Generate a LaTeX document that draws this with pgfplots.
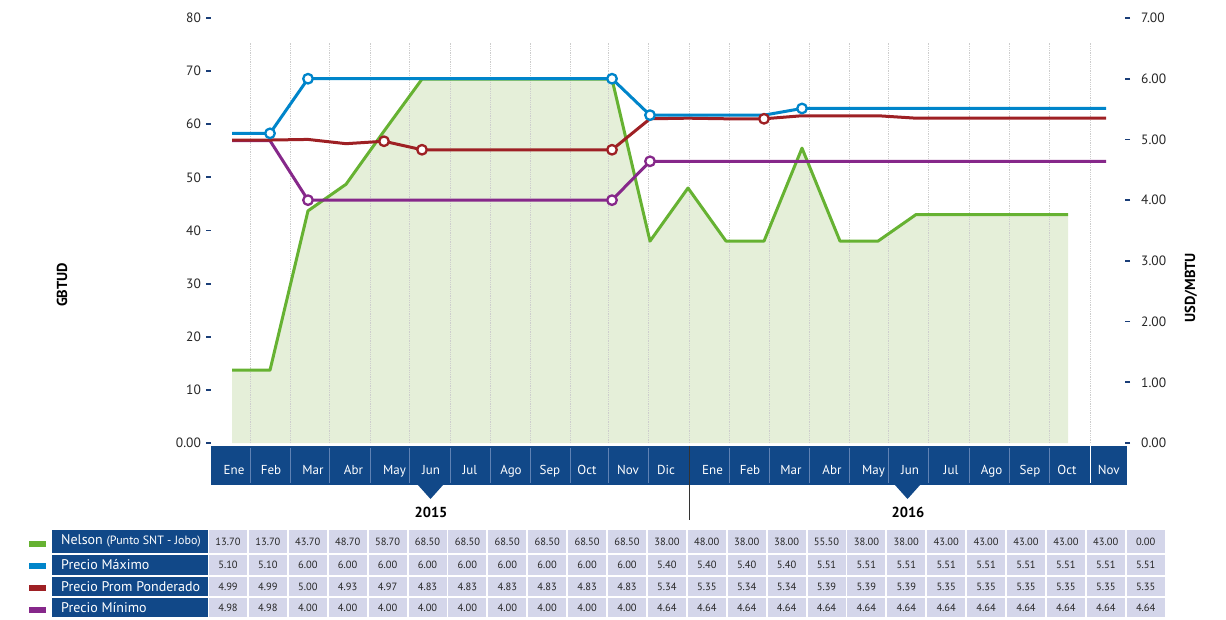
\documentclass[border=0pt]{standalone}
\usepackage{pgfplots}
\pgfplotsset{compat=1.18}
\usepackage{fontspec}
\setmainfont{PT Sans}
\definecolor{cgreen}{RGB}{102,178,50}
\definecolor{carea}{RGB}{229,239,217}
\definecolor{cblue}{RGB}{0,133,202}
\definecolor{cred}{RGB}{158,32,36}
\definecolor{cpurple}{RGB}{134,40,138}
\definecolor{cband}{RGB}{17,72,136}
\definecolor{ccell}{RGB}{212,214,234}
\definecolor{ctick}{RGB}{26,62,120}
\definecolor{csep}{RGB}{95,130,180}
\definecolor{cgrid}{RGB}{205,205,205}
\newcommand\tickfont{\fontsize{13.5}{15}\selectfont}
\newcommand\monthfont{\fontsize{13}{15}\selectfont}
\newcommand\tabfont{\fontsize{10.5}{12}\selectfont}
\newcommand\headfont{\fontsize{14}{16}\selectfont}
\def\rowA{13.70,13.70,43.70,48.70,58.70,68.50,68.50,68.50,68.50,68.50,68.50,38.00,48.00,38.00,38.00,55.50,38.00,38.00,43.00,43.00,43.00,43.00,43.00,0.00}
\def\rowB{5.10,5.10,6.00,6.00,6.00,6.00,6.00,6.00,6.00,6.00,6.00,5.40,5.40,5.40,5.40,5.51,5.51,5.51,5.51,5.51,5.51,5.51,5.51,5.51}
\def\rowC{4.99,4.99,5.00,4.93,4.97,4.83,4.83,4.83,4.83,4.83,4.83,5.34,5.35,5.34,5.34,5.39,5.39,5.39,5.35,5.35,5.35,5.35,5.35,5.35}
\def\rowD{4.98,4.98,4.00,4.00,4.00,4.00,4.00,4.00,4.00,4.00,4.00,4.64,4.64,4.64,4.64,4.64,4.64,4.64,4.64,4.64,4.64,4.64,4.64,4.64}
\begin{document}
\begin{tikzpicture}
\begin{scope}[x=1pt,y=1pt]
\path[use as bounding box] (0,0) rectangle (1226,619);
% month band
\fill[cband] (211,134) rectangle (1127,173.5);
\fill[cband] (417.5,134.5) -- (443.5,134.5) -- (430.5,120) -- cycle;
\fill[cband] (894.5,134.5) -- (920.5,134.5) -- (907.5,120) -- cycle;
\foreach \xx in {250.7,290.4,329.6,370.4,409.6,450,490,530,570,608.6,648,729,769,809.5,849,888,928.5,969,1009,1049}
  \draw[csep, line width=0.6pt] (\xx,136.5) -- (\xx,171.5);
\draw[white, line width=0.9pt] (1090,136.5) -- (1090,173.5);
\draw[black!80, line width=1.2pt] (689.3,173.5) -- (689.3,99.5);
\node[font=\bfseries\fontsize{14.5}{16}\selectfont] at (431,107) {2015};
\node[font=\bfseries\fontsize{14.5}{16}\selectfont] at (908,107) {2016};
\end{scope}
% left axis
\begin{axis}[
  scale only axis, width=913.9pt, height=425pt,
  at={(211.1pt,176pt)}, anchor=south west,
  xmin=-0.55, xmax=23.5, ymin=0, ymax=80,
  axis x line*=bottom, axis y line*=left,
  axis line style={draw=none},
  xtick={0.053,1.026,2.132,3.197,4.276,5.237,6.263,7.342,8.368,9.342,10.421,11.421,12.645,13.632,14.711,15.789,16.882,17.842,18.921,19.987,21.0,21.974,23.074},
  xticklabels={Ene,Feb,Mar,Abr,May,Jun,Jul,Ago,Sep,Oct,Nov,Dic,Ene,Feb,Mar,Abr,May,Jun,Jul,Ago,Sep,Oct,Nov},
  x tick style={draw=none},
  xticklabel style={text=white, font=\monthfont, anchor=base, yshift=-26.5pt},
  ytick={0,10,...,80},
  yticklabels={0.00,10,20,30,40,50,60,70,80},
  tick align=outside, major tick length=5pt,
  y tick style={draw=ctick, line width=1.8pt},
  yticklabel style={font=\tickfont, text=black!85, inner sep=0pt, xshift=-5pt},
]
\addplot[draw=none, fill=carea] coordinates {(0,13.70) (1,13.70) (2,43.70) (3,48.70) (4,58.70) (5,68.50) (6,68.50) (7,68.50) (8,68.50) (9,68.50) (10,68.50) (11,38.00) (12,48.00) (13,38.00) (14,38.00) (15,55.50) (16,38.00) (17,38.00) (18,43.00) (19,43.00) (20,43.00) (21,43.00) (22,43.00)} \closedcycle;
\pgfplotsinvokeforeach{250.7,290.4,329.6,370.4,409.6,450,490,530,570,608.6,648,689,729,769,809.5,849,888,928.5,969,1009,1049,1090}{
  \draw[cgrid, densely dotted, line width=0.8pt] (axis cs:{(#1-232)/38},0) -- (axis cs:{(#1-232)/38},75.3);
}
\addplot[cgreen, line width=3pt, line join=round] coordinates {(0,13.70) (1,13.70) (2,43.70) (3,48.70) (4,58.70) (5,68.50) (6,68.50) (7,68.50) (8,68.50) (9,68.50) (10,68.50) (11,38.00) (12,48.00) (13,38.00) (14,38.00) (15,55.50) (16,38.00) (17,38.00) (18,43.00) (19,43.00) (20,43.00) (21,43.00) (22,43.00)};
\end{axis}
% right axis
\begin{axis}[
  scale only axis, width=913.9pt, height=425pt,
  at={(211.1pt,176pt)}, anchor=south west,
  xmin=-0.55, xmax=23.5, ymin=0, ymax=7,
  hide x axis, axis y line*=right,
  axis line style={draw=none},
  ytick={0,1,...,7},
  tick align=outside, major tick length=5pt,
  y tick style={draw=ctick, line width=1.8pt},
  yticklabel style={font=\tickfont, text=black!85, inner sep=0pt, xshift=11pt,
    /pgf/number format/.cd, fixed, fixed zerofill, precision=2, assume math mode=true},
  every axis plot/.append style={line join=round},
]
\addplot[cpurple, line width=3pt, mark=*, mark indices={3,11,12}, mark options={fill=white, draw=cpurple, line width=2.3pt}, mark size=4.8pt] coordinates {(0,4.98) (1,4.98) (2,4.00) (3,4.00) (4,4.00) (5,4.00) (6,4.00) (7,4.00) (8,4.00) (9,4.00) (10,4.00) (11,4.64) (12,4.64) (13,4.64) (14,4.64) (15,4.64) (16,4.64) (17,4.64) (18,4.64) (19,4.64) (20,4.64) (21,4.64) (22,4.64) (23,4.64)};
\addplot[cred, line width=3pt, mark=*, mark indices={5,6,11,15}, mark options={fill=white, draw=cred, line width=2.3pt}, mark size=4.8pt] coordinates {(0,4.99) (1,4.99) (2,5.00) (3,4.93) (4,4.97) (5,4.83) (6,4.83) (7,4.83) (8,4.83) (9,4.83) (10,4.83) (11,5.34) (12,5.35) (13,5.34) (14,5.34) (15,5.39) (16,5.39) (17,5.39) (18,5.35) (19,5.35) (20,5.35) (21,5.35) (22,5.35) (23,5.35)};
\addplot[cblue, line width=3pt, mark=*, mark indices={2,3,11,12,16}, mark options={fill=white, draw=cblue, line width=2.3pt}, mark size=4.8pt] coordinates {(0,5.10) (1,5.10) (2,6.00) (3,6.00) (4,6.00) (5,6.00) (6,6.00) (7,6.00) (8,6.00) (9,6.00) (10,6.00) (11,5.40) (12,5.40) (13,5.40) (14,5.40) (15,5.51) (16,5.51) (17,5.51) (18,5.51) (19,5.51) (20,5.51) (21,5.51) (22,5.51) (23,5.51)};
\end{axis}
\begin{scope}[x=1pt,y=1pt]
% axis titles
\node[rotate=90, font=\bfseries\fontsize{14.5}{16}\selectfont] at (62,334) {GBTUD};
\node[rotate=90, font=\bfseries\fontsize{14.5}{16}\selectfont] at (1191,331) {USD/MBTU};
% table
\fill[cgreen] (29,72) rectangle (46,78);
\fill[cblue] (29,50) rectangle (46,56);
\fill[cred] (29,28) rectangle (46,34);
\fill[cpurple] (29,6) rectangle (46,12);
\fill[cband] (52,66) rectangle (208,89);
\fill[cband] (52,44) rectangle (208,64);
\fill[cband] (52,23) rectangle (208,42);
\fill[cband] (52,2) rectangle (208,21);
\node[anchor=west, text=white, font=\headfont, inner sep=0pt] at (61,78) {Nelson {\fontsize{12}{14}\selectfont (Punto SNT - Jobo)}};
\node[anchor=west, text=white, font=\headfont, inner sep=0pt] at (61,54.5) {Precio Máximo};
\node[anchor=west, text=white, font=\headfont, inner sep=0pt] at (61,32.5) {Precio Prom Ponderado};
\node[anchor=west, text=white, font=\headfont, inner sep=0pt] at (61,11.5) {Precio Mínimo};
\foreach \v [count=\i from 0] in \rowA {
  \fill[ccell] ({209+39.9*\i},66) rectangle ++(38,23);
  \node[font=\tabfont, text=black!85] at ({228+39.9*\i},77.5) {\v};
}
\foreach \v [count=\i from 0] in \rowB {
  \fill[ccell] ({209+39.9*\i},44) rectangle ++(38,20);
  \node[font=\tabfont, text=black!85] at ({228+39.9*\i},54) {\v};
}
\foreach \v [count=\i from 0] in \rowC {
  \fill[ccell] ({209+39.9*\i},23) rectangle ++(38,19);
  \node[font=\tabfont, text=black!85] at ({228+39.9*\i},32.5) {\v};
}
\foreach \v [count=\i from 0] in \rowD {
  \fill[ccell] ({209+39.9*\i},2) rectangle ++(38,19);
  \node[font=\tabfont, text=black!85] at ({228+39.9*\i},11.5) {\v};
}
\end{scope}
\end{tikzpicture}
\end{document}
